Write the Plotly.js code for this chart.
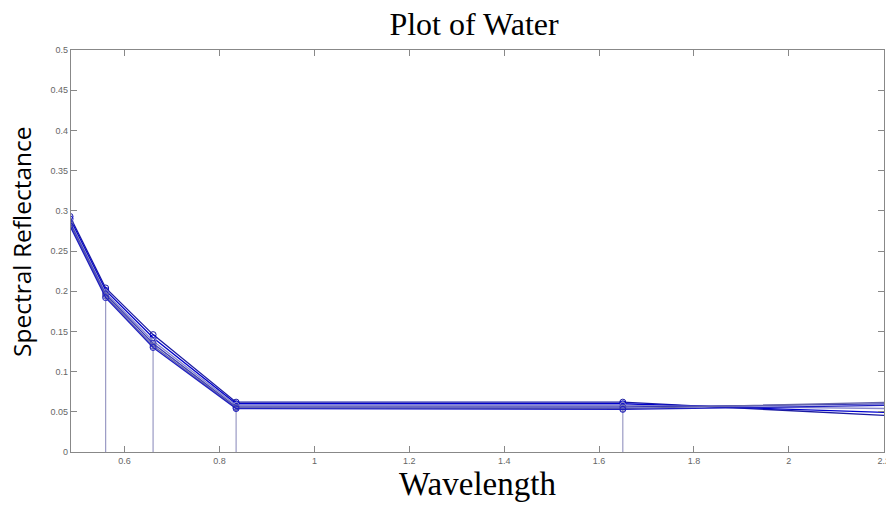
<!DOCTYPE html>
<html><head><meta charset="utf-8">
<script src="https://cdn.plot.ly/plotly-3.0.1.min.js"></script>
<style>html,body{margin:0;padding:0;background:#fff}#chart{width:886px;height:505px}</style>
</head><body><div id="chart"></div>
<script>
const wavelength = [0.485, 0.56, 0.66, 0.835, 1.65, 2.215];
const sample1 = [0.293, 0.204, 0.146, 0.062, 0.062, 0.045];
const sample2 = [0.290, 0.201, 0.142, 0.060, 0.060, 0.049];
const sample3 = [0.287, 0.198, 0.138, 0.058, 0.058, 0.054];
const sample4 = [0.285, 0.196, 0.135, 0.056, 0.056, 0.060];
const sample5 = [0.283, 0.194, 0.132, 0.055, 0.054, 0.062];
const sample6 = [0.281, 0.192, 0.130, 0.054, 0.053, 0.058];
const seriesColors = ['#1a1aa0', '#0000cc', '#8888cc', '#3a3ab8', '#6666aa', '#2020c0'];
const xTicks = [0.6, 0.8, 1, 1.2, 1.4, 1.6, 1.8, 2, 2.2];
const yTicks = [0, 0.05, 0.1, 0.15, 0.2, 0.25, 0.3, 0.35, 0.4, 0.45, 0.5];

const allSeries = [sample1, sample2, sample3, sample4, sample5, sample6];

// stems from the lowest series down to zero
const stemX = [], stemY = [];
wavelength.forEach((w, i) => { stemX.push(w, w, null); stemY.push(0, sample6[i], null); });

const traces = [{
  x: stemX, y: stemY, mode: 'lines', line: {color: '#9a9ac4', width: 1.2},
  hoverinfo: 'skip', showlegend: false
}];
allSeries.forEach((s, i) => {
  traces.push({
    x: wavelength, y: s, mode: 'lines+markers', showlegend: false,
    line: {color: seriesColors[i], width: 1.3},
    marker: {symbol: 'circle-open', size: 6, color: seriesColors[i], line: {width: 1}}
  });
});

const layout = {
  width: 886, height: 505,
  margin: {l: 71, r: 2, t: 50, b: 53},
  paper_bgcolor: '#fff', plot_bgcolor: '#fff',
  title: {text: 'Plot of Water', font: {family: 'Liberation Serif, Times New Roman, serif', size: 32, color: '#000'}, x: 0.535, xanchor: 'center', y: 0.953, yanchor: 'middle'},
  xaxis: {
    range: [0.487, 2.2005], tickvals: xTicks, ticktext: xTicks.map(String),
    ticks: 'inside', ticklen: 6, tickcolor: '#888', showgrid: false, zeroline: false,
    showline: true, linecolor: '#888', linewidth: 1.2, mirror: 'ticks',
    ticklabeloverflow: 'allow', automargin: false,
    tickfont: {family: 'Arial, Liberation Sans, sans-serif', size: 9, color: '#666'},
    title: {text: 'Wavelength', font: {family: 'Liberation Serif, Times New Roman, serif', size: 33, color: '#000'}, standoff: 2}
  },
  yaxis: {
    range: [0, 0.5], tickvals: yTicks, ticktext: yTicks.map(String),
    ticks: 'inside', ticklen: 6, tickcolor: '#888', showgrid: false, zeroline: false,
    showline: true, linecolor: '#888', linewidth: 1.2, mirror: 'ticks',
    automargin: false,
    tickfont: {family: 'Arial, Liberation Sans, sans-serif', size: 9, color: '#666'}
  },
  annotations: [{
    text: 'Spectral Reflectance', textangle: -90, showarrow: false,
    xref: 'paper', yref: 'paper', x: -0.0603, y: 0.525, xanchor: 'center', yanchor: 'middle',
    font: {family: 'Open Sans, Noto Sans, sans-serif', size: 24.5, color: '#000'}
  }]
};
Plotly.newPlot('chart', traces, layout, {displayModeBar: false, staticPlot: true});
</script></body></html>
